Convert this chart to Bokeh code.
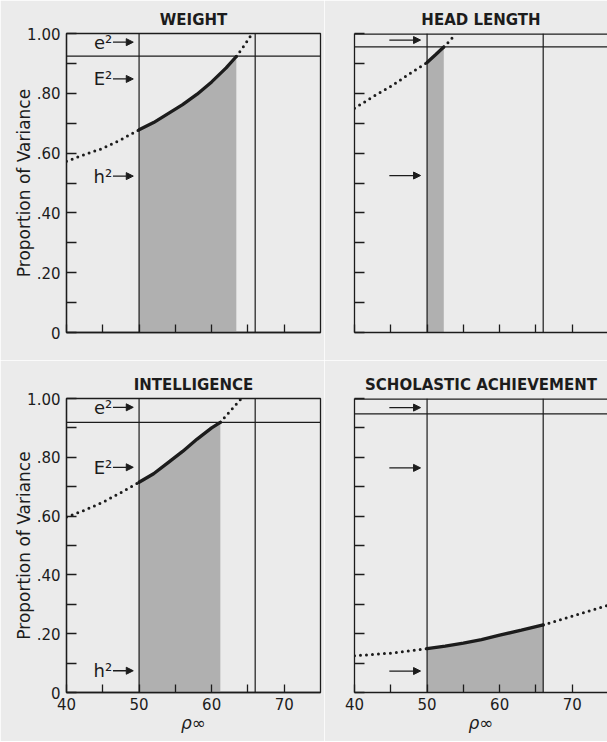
from bokeh.plotting import figure
from bokeh.layouts import gridplot
from bokeh.models import (Range1d, FixedTicker, Span, Arrow, NormalHead, Title,
                          ColumnDataSource)
from bokeh.core.properties import value
from bokeh.embed import file_html
from bokeh.resources import INLINE

# ---------------- data ----------------
titles = ["WEIGHT", "HEAD LENGTH", "INTELLIGENCE", "SCHOLASTIC ACHIEVEMENT"]
y_axis_title = "Proportion of Variance"
x_axis_title = "ρ∞"

x_major = [40, 50, 60, 70]
x_minor = [45, 55, 65]
x_tick_labels = ["40", "50", "60", "70"]
y_major = [0.0, 0.2, 0.4, 0.6, 0.8, 1.0]
y_minor = [0.1, 0.3, 0.5, 0.7, 0.9]
y_tick_labels = ["0", ".20", ".40", ".60", ".80", "1.00"]

rho_bounds = [50, 66]

# WEIGHT
weight_left_x = [40, 42.5, 45, 47.5, 50]
weight_left_y = [0.573, 0.595, 0.616, 0.645, 0.678]
weight_solid_x = [50, 52, 54, 56, 58, 60, 62, 63.4]
weight_solid_y = [0.678, 0.702, 0.732, 0.762, 0.797, 0.838, 0.885, 0.923]
weight_right_x = [63.4, 64.5, 65.6]
weight_right_y = [0.923, 0.960, 1.0]
weight_hline = 0.924
weight_arrow_y = [0.971, 0.848, 0.523]
weight_arrow_text = ["e²", "E²", "h²"]

# HEAD LENGTH
head_left_x = [40, 42.5, 45, 47.5, 50]
head_left_y = [0.750, 0.788, 0.823, 0.864, 0.903]
head_solid_x = [50, 51.2, 52.3]
head_solid_y = [0.903, 0.930, 0.955]
head_right_x = [52.3, 53.1, 53.9]
head_right_y = [0.955, 0.975, 0.998]
head_hline = 0.955
head_arrow_y = [0.978, 0.525]

# INTELLIGENCE
intel_left_x = [40, 42.5, 45, 47.5, 50]
intel_left_y = [0.597, 0.620, 0.647, 0.680, 0.715]
intel_solid_x = [50, 52, 54, 56, 58, 60, 61.2]
intel_solid_y = [0.715, 0.744, 0.782, 0.820, 0.862, 0.900, 0.919]
intel_right_x = [61.2, 62.6, 64.1]
intel_right_y = [0.919, 0.958, 1.0]
intel_hline = 0.919
intel_arrow_y = [0.970, 0.766, 0.074]
intel_arrow_text = ["e²", "E²", "h²"]

# SCHOLASTIC ACHIEVEMENT
schol_left_x = [40, 45, 50]
schol_left_y = [0.125, 0.134, 0.149]
schol_solid_x = [50, 52.5, 55, 57.5, 60, 63, 66]
schol_solid_y = [0.149, 0.158, 0.168, 0.180, 0.195, 0.212, 0.230]
schol_right_x = [66, 70, 75]
schol_right_y = [0.230, 0.260, 0.297]
schol_hline = 0.948
schol_arrow_y = [0.969, 0.764, 0.073]

# ---------------- style ----------------
INK = "#1c1c1c"
BG = "#ebebeb"
SHADE = "#b0b0b0"
FONT = "DejaVu Sans"


def make_panel(title, lx, ly, sx, sy, rx, ry, hline, arrow_y, arrow_text,
               is_left, is_bottom):
    x_end = 75 if is_left else 74.86
    width = 324 if is_left else 283
    height = 381 if is_bottom else 360
    p = figure(width=width, height=height,
               x_range=Range1d(40, x_end), y_range=Range1d(0, 1),
               output_backend="svg", toolbar_location=None, title=None,
               min_border_left=66 if is_left else 30,
               min_border_right=4 if is_left else 0,
               min_border_top=38 if is_bottom else 33,
               min_border_bottom=49 if is_bottom else 28,
               background_fill_color=BG, border_fill_color=BG)
    p.grid.visible = False

    if is_left:
        p.outline_line_color = INK
        p.outline_line_width = 1.3
        p.outline_line_alpha = 1.0
    else:
        p.outline_line_color = None
        p.add_layout(Span(location=1.0, dimension="width", line_color=INK,
                          line_width=2.6))

    # x axis
    xa = p.below[0]
    xa.ticker = FixedTicker(ticks=x_major, minor_ticks=x_minor)
    xa.major_tick_in = 8
    xa.major_tick_out = 0
    xa.minor_tick_in = 8
    xa.minor_tick_out = 0
    xa.major_tick_line_color = INK
    xa.minor_tick_line_color = INK
    xa.major_tick_line_width = 1.3
    xa.minor_tick_line_width = 1.3
    xa.axis_line_color = INK
    xa.axis_line_width = 1.3
    xa.major_label_standoff = 5
    xa.major_label_text_font = FONT
    xa.major_label_text_font_size = "15px"
    xa.major_label_text_color = INK
    if is_bottom:
        xa.major_label_overrides = dict(zip(x_major, x_tick_labels))
        xa.axis_label = x_axis_title
        xa.axis_label_standoff = 0
        xa.axis_label_text_font = FONT
        xa.axis_label_text_font_style = "italic"
        xa.axis_label_text_font_size = "17px"
        xa.axis_label_text_color = INK
    else:
        xa.major_label_overrides = {t: "" for t in x_major}

    # y axis
    ya = p.left[0]
    ya.ticker = FixedTicker(ticks=y_major, minor_ticks=y_minor)
    ya.major_tick_in = 10
    ya.major_tick_out = 0
    ya.minor_tick_in = 10
    ya.minor_tick_out = 0
    ya.major_tick_line_color = INK
    ya.minor_tick_line_color = INK
    ya.major_tick_line_width = 1.3
    ya.minor_tick_line_width = 1.3
    ya.axis_line_color = INK
    ya.axis_line_width = 1.3
    ya.major_label_standoff = 6
    ya.major_label_text_font = FONT
    ya.major_label_text_font_size = "15px"
    ya.major_label_text_color = INK
    if is_left:
        ya.major_label_overrides = dict(zip(y_major, y_tick_labels))
        ya.axis_label = y_axis_title
        ya.axis_label_standoff = -10
        ya.axis_label_text_font = FONT
        ya.axis_label_text_font_style = "normal"
        ya.axis_label_text_font_size = "17px"
        ya.axis_label_text_color = INK
    else:
        ya.major_label_overrides = {t: "" for t in y_major}

    # shaded area under the solid part
    p.varea(x=sx, y1=0, y2=sy, fill_color=SHADE, fill_alpha=1.0)

    # vertical bounds and horizontal level
    for b in rho_bounds:
        p.add_layout(Span(location=b, dimension="height", line_color=INK,
                          line_width=1.2))
    p.add_layout(Span(location=hline, dimension="width", line_color=INK,
                      line_width=1.2))

    # curve
    p.line(lx, ly, line_color=INK, line_width=3, line_dash="0 6",
           line_cap="round")
    p.line(rx, ry, line_color=INK, line_width=3, line_dash="0 6",
           line_cap="round")
    p.line(sx, sy, line_color=INK, line_width=3.3, line_cap="round")

    # arrows
    if is_left:
        xs, xe = 46.4, 49.2
    else:
        xs, xe = 44.8, 49.1
    asrc = ColumnDataSource(dict(xs=[xs] * len(arrow_y), xe=[xe] * len(arrow_y),
                                 y=arrow_y))
    p.add_layout(Arrow(end=NormalHead(size=7, fill_color=INK, line_color=INK,
                                      line_width=1),
                       x_start="xs", y_start="y", x_end="xe", y_end="y",
                       source=asrc, line_color=INK, line_width=1.3))
    if arrow_text is not None:
        tsrc = ColumnDataSource(dict(x=[xs - 0.1] * len(arrow_y), y=arrow_y,
                                     t=arrow_text))
        p.text(x="x", y="y", text="t", source=tsrc, text_font=value(FONT),
               text_font_size="18px", text_align="right",
               text_baseline="middle", text_color=INK)

    # panel title
    p.add_layout(Title(text=title, align="center", offset=5 if is_left else 1,
                       standoff=9, text_font=FONT, text_font_style="bold",
                       text_font_size="15px", text_color=INK), "above")
    return p


p1 = make_panel(titles[0], weight_left_x, weight_left_y, weight_solid_x,
                weight_solid_y, weight_right_x, weight_right_y, weight_hline,
                weight_arrow_y, weight_arrow_text, True, False)
p2 = make_panel(titles[1], head_left_x, head_left_y, head_solid_x, head_solid_y,
                head_right_x, head_right_y, head_hline, head_arrow_y, None,
                False, False)
p3 = make_panel(titles[2], intel_left_x, intel_left_y, intel_solid_x,
                intel_solid_y, intel_right_x, intel_right_y, intel_hline,
                intel_arrow_y, intel_arrow_text, True, True)
p4 = make_panel(titles[3], schol_left_x, schol_left_y, schol_solid_x,
                schol_solid_y, schol_right_x, schol_right_y, schol_hline,
                schol_arrow_y, None, False, True)

grid = gridplot([[p1, p2], [p3, p4]], toolbar_location=None)

open("out.html", "w").write(file_html(grid, INLINE))
